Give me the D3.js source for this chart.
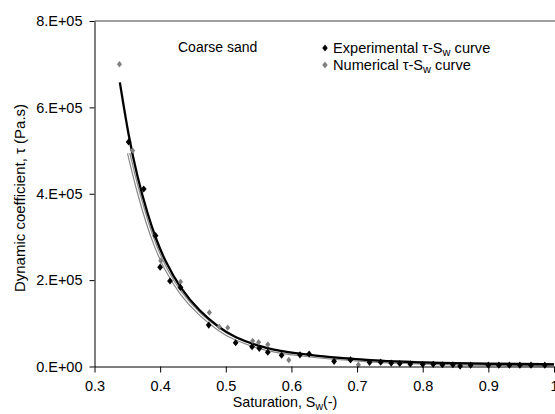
<!DOCTYPE html>
<html><head><meta charset="utf-8">
<script src="https://cdn.jsdelivr.net/npm/d3@7"></script>
<style>body{margin:0;background:#fff}svg{display:block}text{font-family:"Liberation Sans",Arial,sans-serif;fill:#000}</style>
</head><body><svg id="c" width="555" height="414"></svg>
<script>
// Experimental points (black diamonds)
const expS   = [0.352,0.375,0.393,0.400,0.415,0.431,0.474,0.515,0.540,0.551,0.564,0.585,0.613,0.627,0.665,0.690,0.719,0.736,0.752,0.765,0.781,0.800,0.816,0.830,0.846,0.857,0.873,0.900,0.916,0.932,0.948,0.965,0.986];
const expTau = [5.2e5,4.11e5,3.03e5,2.3e5,1.98e5,1.83e5,0.96e5,0.55e5,0.46e5,0.42e5,0.33e5,0.26e5,0.27e5,0.29e5,1.2e4,1.55e4,0.97e4,1.0e4,0.8e4,0.7e4,0.6e4,0.5e4,0.5e4,0.4e4,0.4e4,0.1e4,0.3e4,0.3e4,0.3e4,0.3e4,0.3e4,0.3e4,0.3e4];
// Numerical points (grey diamonds)
const numS   = [0.338,0.358,0.401,0.431,0.475,0.490,0.503,0.541,0.550,0.564,0.596,0.702];
const numTau = [7.0e5,5.0e5,2.45e5,1.96e5,1.25e5,0.92e5,0.90e5,0.59e5,0.56e5,0.51e5,0.15e5,0.4e4];
// Fitted curves
const expFitS   = [0.3386,0.352,0.365,0.381,0.393,0.407,0.431,0.46,0.49,0.511,0.56,0.613,0.663,0.714,0.76,0.82,0.9,1.0];
const expFitTau = [6.58e5,5.32e5,4.4e5,3.52e5,2.98e5,2.45e5,1.8e5,1.28e5,0.9e5,0.69e5,0.41e5,0.29e5,0.21e5,0.15e5,0.11e5,0.08e5,0.06e5,0.05e5];
const numFitS   = [0.352,0.365,0.381,0.393,0.407,0.431,0.46,0.49,0.511,0.56,0.613,0.663,0.714,0.76,0.82,0.9,1.0];
const numFitTau = [4.94e5,4.12e5,3.28e5,2.78e5,2.28e5,1.68e5,1.2e5,0.84e5,0.65e5,0.38e5,0.27e5,0.19e5,0.14e5,0.1e5,0.07e5,0.05e5,0.04e5];
// Ticks
const xTicks = [0.3,0.4,0.5,0.6,0.7,0.8,0.9,1.0];
const xTickLabels = ["0.3","0.4","0.5","0.6","0.7","0.8","0.9","1"];
const yTicks = [0,2e5,4e5,6e5,8e5];
const yTickLabels = ["0.E+00","2.E+05","4.E+05","6.E+05","8.E+05"];

const svg = d3.select("#c");
const x = d3.scaleLinear().domain([0.3,1.0]).range([94.5,554]);
const y = d3.scaleLinear().domain([0,8e5]).range([366.5,21]);

// top border
svg.append("line").attr("x1",x(0.3)).attr("x2",555).attr("y1",y(8e5)).attr("y2",y(8e5))
  .attr("stroke","#a0a0a0").attr("stroke-width",2);

const line = d3.line().x(d=>x(d[0])).y(d=>y(d[1])).curve(d3.curveBasis);
const numFit = numFitS.map((s,i)=>[s,numFitTau[i]]);
const expFit = expFitS.map((s,i)=>[s,expFitTau[i]]);
svg.append("path").attr("d",line(numFit)).attr("fill","none").attr("stroke","#888").attr("stroke-width",3.5);
svg.append("path").attr("d",line(numFit)).attr("fill","none").attr("stroke","#fff").attr("stroke-width",1.1);
svg.append("path").attr("d",line(expFit)).attr("fill","none").attr("stroke","#000").attr("stroke-width",2.3);

const diamond = r => `M0,${-r}L${r*0.8},0L0,${r}L${-r*0.8},0Z`;
svg.append("g").selectAll("path").data(numS.map((s,i)=>[s,numTau[i]])).join("path")
  .attr("d",diamond(3.2)).attr("transform",d=>`translate(${x(d[0])},${y(d[1])})`).attr("fill","#808080");
svg.append("g").selectAll("path").data(expS.map((s,i)=>[s,expTau[i]])).join("path")
  .attr("d",diamond(3.6)).attr("transform",d=>`translate(${x(d[0])},${y(d[1])})`).attr("fill","#000");

// axes
const xAxis = d3.axisBottom(x).tickValues(xTicks).tickFormat((d,i)=>xTickLabels[i]).tickSize(6).tickSizeOuter(0);
const gx = svg.append("g").attr("transform",`translate(0,${y(0)})`).call(xAxis);
gx.select(".domain").attr("stroke","#000");
gx.selectAll("text").attr("font-size",14.5).attr("dy","1.1em").attr("font-family","Liberation Sans, Arial, sans-serif");
const yAxis = d3.axisLeft(y).tickValues(yTicks).tickFormat((d,i)=>yTickLabels[i]).tickSize(5).tickSizeOuter(0);
const gy = svg.append("g").attr("transform",`translate(${x(0.3)},0)`).call(yAxis);
gy.selectAll("text").attr("font-size",14.5).attr("x",-12).attr("font-family","Liberation Sans, Arial, sans-serif");
svg.selectAll(".tick line").attr("stroke","#000");

// axis titles
const xt = svg.append("text").attr("x",285).attr("y",407).attr("text-anchor","middle").attr("font-size",14.3);
xt.append("tspan").text("Saturation, S");
xt.append("tspan").text("w").attr("font-size",10.5).attr("dy",3);
xt.append("tspan").text("(-)").attr("dy",-3);
svg.append("text").attr("transform","translate(25,198) rotate(-90)").attr("text-anchor","middle").attr("font-size",15)
  .text("Dynamic coefficient, τ (Pa.s)");

// annotation
svg.append("text").attr("x",178).attr("y",52).attr("font-size",14).text("Coarse sand");

// legend
const leg = [{t:"Experimental ",c:"#000",y:48},{t:"Numerical ",c:"#808080",y:65}];
leg.forEach(l=>{
  svg.append("path").attr("d",diamond(3.4)).attr("transform",`translate(325,${l.y})`).attr("fill",l.c);
  const t = svg.append("text").attr("x",333).attr("y",l.y+5).attr("font-size",14.6);
  t.append("tspan").text(l.t + "τ-S");
  t.append("tspan").text("w").attr("font-size",11).attr("dy",3);
  t.append("tspan").text(" curve").attr("dy",-3);
});
</script></body></html>
